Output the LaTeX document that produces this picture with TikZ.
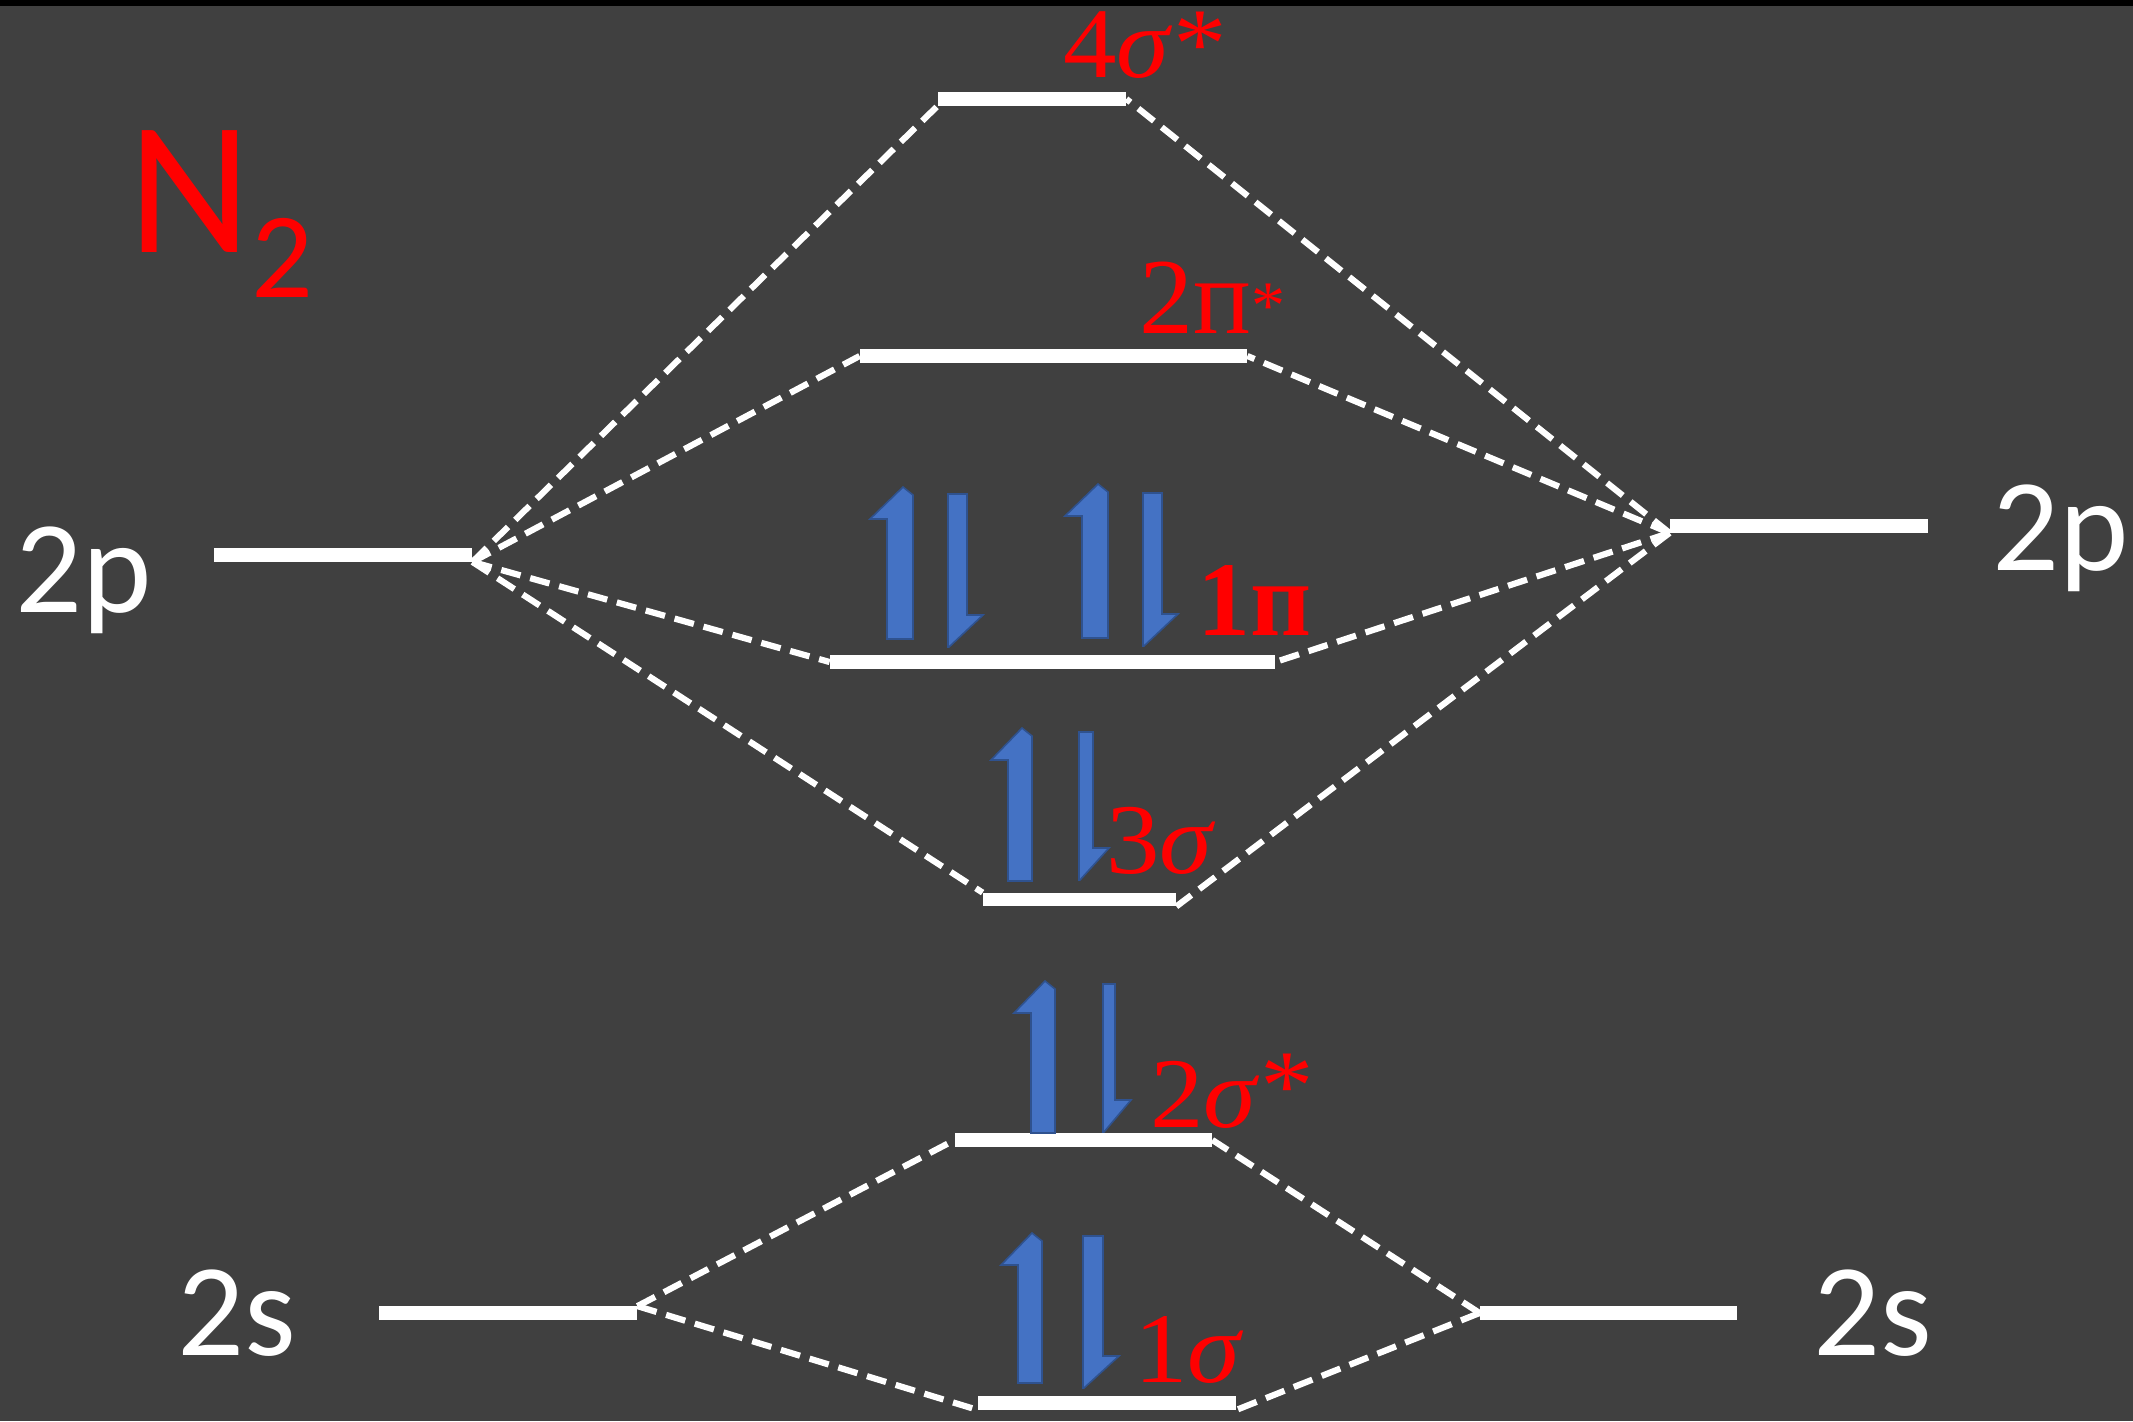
\documentclass[tikz,border=0pt]{standalone}
\usepackage{fontspec}
\setmainfont{Carlito}
\newfontfamily\serifx{Liberation Serif}
\newfontfamily\serifw{Liberation Serif}[FakeStretch=1.07]
\definecolor{bg}{HTML}{404040}
\definecolor{eblue}{HTML}{4472C4}
\definecolor{eblueb}{HTML}{2F528F}
\definecolor{lblred}{HTML}{FF0000}
\newcommand\upspin[4]{\filldraw[spin] (#1,#3) -- ({#1+#2},#3) -- ({#1+#2},{#4+8}) -- ({#1+#2-10},#4) -- ({#1-17},{#4+32}) -- (#1,{#4+32}) -- cycle;}
\newcommand\downspin[4]{\filldraw[spin] (#1,#3) -- ({#1+#2},#3) -- ({#1+#2},{#4-32}) -- ({#1+#2+16},{#4-32}) -- ({#1+1},#4) -- (#1,#4) -- cycle;}
\newcommand\sstar{\raisebox{4pt}{*}}
\begin{document}
\begin{tikzpicture}[x=0.5pt,y=-0.5pt,
  level/.style={rectangle, fill=white, draw=none, inner sep=0pt, minimum height=6.5pt},
  conn/.style={draw=white, line width=3.1pt, dash pattern=on 10pt off 5pt},
  spin/.style={fill=eblue, draw=eblueb, line width=0.8pt, line join=miter},
  mo/.style={text=lblred, inner sep=0pt, anchor=base west, font=\serifw\fontsize{50}{50}\selectfont},
  mopi/.style={text=lblred, inner sep=0pt, anchor=base west, font=\serifx\fontsize{54}{54}\selectfont},
  mopib/.style={text=lblred, inner sep=0pt, anchor=base west, font=\serifx\bfseries\fontsize{53}{53}\selectfont},
  ao/.style={text=white, inner sep=0pt, anchor=base west, font=\fontsize{66}{66}\selectfont}]
\useasboundingbox (0,0) rectangle (2133,1421);
\fill[bg] (0,0) rectangle (2133,1421);
\fill[black] (0,0) rectangle (2133,6);

% atomic levels
\node[level, minimum width=129pt] (p2L) at (343,555) {};
\node[level, minimum width=129pt] (p2R) at (1799,526) {};
\node[level, minimum width=129pt] (s2L) at (508,1313) {};
\node[level, minimum width=128.5pt] (s2R) at (1608.5,1313) {};
% molecular levels
\node[level, minimum width=94pt] (s4) at (1032,99) {};
\node[level, minimum width=193.5pt] (pi2) at (1053.5,356) {};
\node[level, minimum width=222.5pt] (pi1) at (1052.5,662) {};
\node[level, minimum width=96.5pt] (s3) at (1079.5,899.5) {};
\node[level, minimum width=128.5pt] (s2s) at (1083.5,1140) {};
\node[level, minimum width=129pt] (s1) at (1107,1403) {};

% connectors
\draw[conn] (p2L.south east) -- (s4.south west);
\draw[conn] (p2L.south east) -- (pi2.west);
\draw[conn] (p2L.south east) -- (pi1.west);
\draw[conn] (p2L.south east) -- (s3.north west);
\draw[conn] (p2R.south west) -- (s4.east);
\draw[conn] (p2R.south west) -- (pi2.east);
\draw[conn] (p2R.south west) -- (pi1.east);
\draw[conn] (p2R.south west) -- (s3.south east);
\draw[conn] (s2L.north east) -- (s2s.west);
\draw[conn] (s2L.north east) -- (s1.south west);
\draw[conn] (s2R.west) -- (s2s.east);
\draw[conn] (s2R.west) -- (s1.south east);

% redraw levels on top
\foreach \n in {p2L,p2R,s2L,s2R,s4,pi2,pi1,s3,s2s,s1}
  \fill[white] (\n.south west) rectangle (\n.north east);

% electrons
\upspin{887}{26}{639}{487}
\downspin{948}{19}{494}{647}
\upspin{1082}{26}{638}{484}
\downspin{1143}{19}{493}{646}
\upspin{1008}{24}{881}{728}
\downspin{1079}{14}{732}{880}
\upspin{1031}{24}{1133}{981}
\downspin{1103}{12}{984}{1132}
\upspin{1018}{24}{1383}{1233}
\downspin{1083}{20}{1236}{1388}

% MO labels
\node[mo] (l4s) at (1063,77) {4\textit{σ}*};
\node[mopi] (l2p) at (1139,333) {2п\raisebox{2.5pt}{\fontsize{34}{34}\selectfont*}};
\node[mopib] (l1p) at (1197,635) {1п};
\node[mo] (l3s) at (1106,873) {3\textit{σ}};
\node[mo] (l2s) at (1150,1127) {2\textit{σ}\sstar};
\node[mo] (l1s) at (1134,1382) {1\textit{σ}};

% AO labels
\node[ao] (t2pL) at (15,612) {2p};
\node[ao] (t2pR) at (1992,570) {2p};
\node[ao] (t2sL) at (177,1355) {2s};
\node[ao] (t2sR) at (1813,1355) {2s};

% molecule
\node[text=lblred, inner sep=0pt, anchor=base west, font=\fontsize{95}{95}\selectfont] (mol) at (128,252) {N\raisebox{-22.5pt}{\fontsize{61}{61}\selectfont 2}};
\end{tikzpicture}
\end{document}
